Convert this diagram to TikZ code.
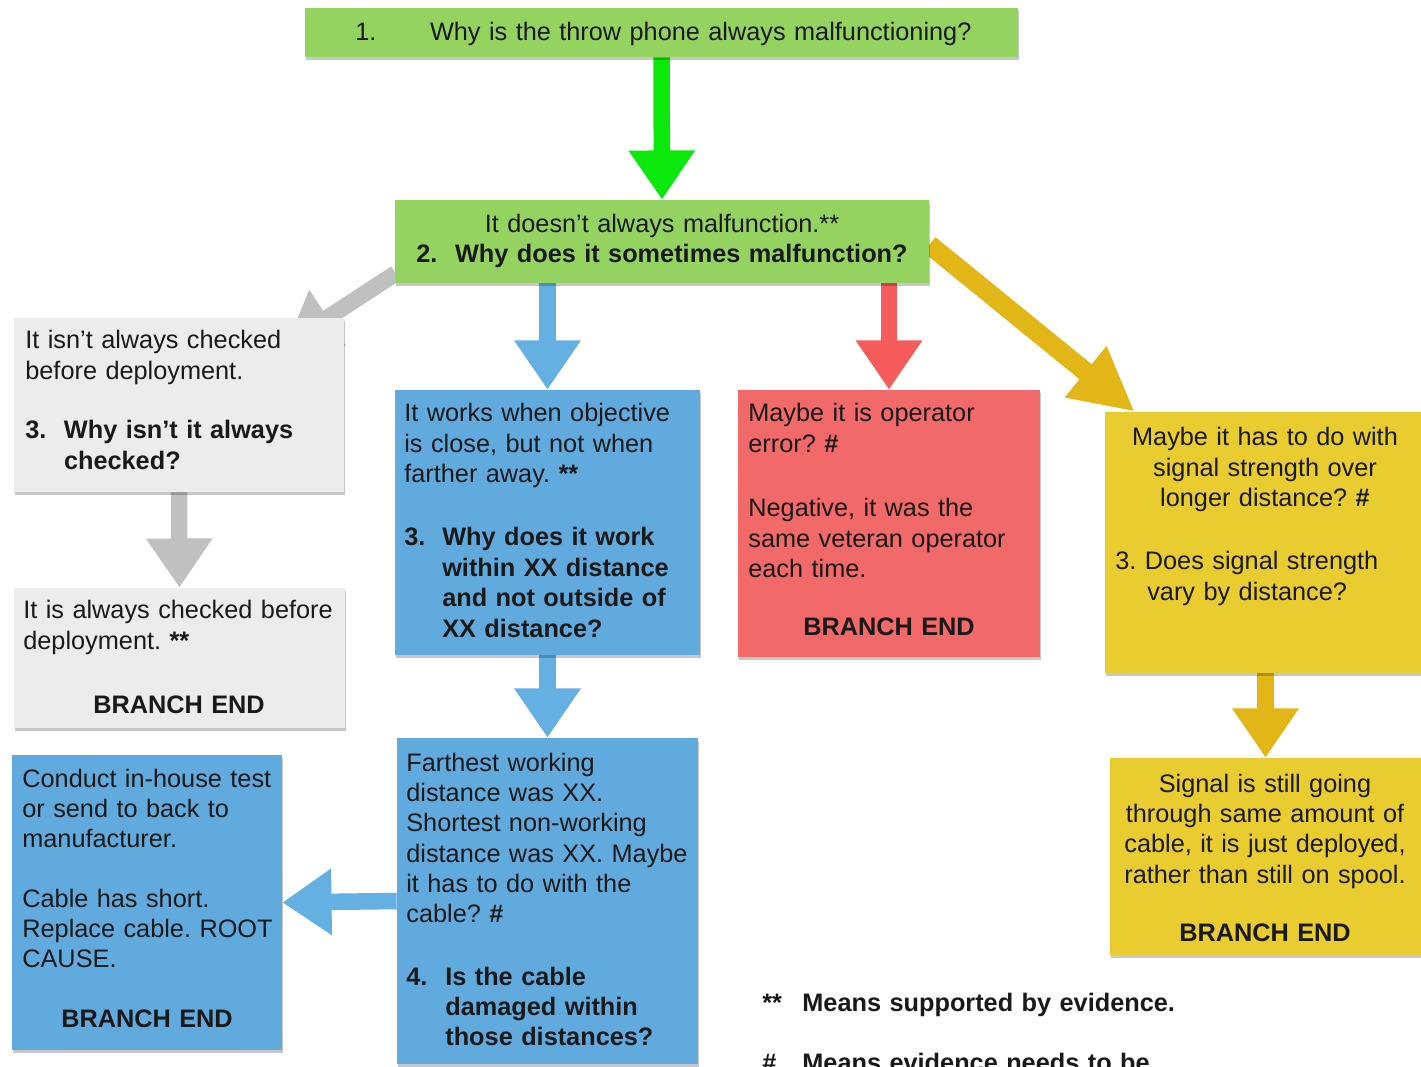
\documentclass[tikz,border=0pt]{standalone}
\usepackage{fontspec}
\setmainfont{Liberation Sans}
\usetikzlibrary{arrows.meta,shadows,calc}
\frenchspacing

\definecolor{boxgreen}{RGB}{148,211,96}
\definecolor{arrgreen}{RGB}{12,232,12}
\definecolor{boxgray}{RGB}{236,236,236}
\definecolor{arrgray}{RGB}{192,192,192}
\definecolor{boxblue}{RGB}{97,170,221}
\definecolor{arrblue}{RGB}{100,176,226}
\definecolor{boxred}{RGB}{241,105,105}
\definecolor{arrred}{RGB}{246,92,92}
\definecolor{boxyellow}{RGB}{232,204,48}
\definecolor{arryellow}{RGB}{226,182,22}
\definecolor{ink}{RGB}{25,25,25}

\pgfdeclarelayer{bg}
\pgfsetlayers{bg,main}

\newcommand\fs{\fontsize{14.4pt}{17.3pt}\selectfont}

\tikzset{
  card/.style={rectangle, inner sep=0pt, draw=none,
    drop shadow={shadow xshift=0.6pt, shadow yshift=-1.8pt,
      fill=black, opacity=0.22}},
  para/.style={anchor=base west, inner sep=0pt, text width=14cm,
    align=left, font=\fs, text=ink},
  cpara/.style={anchor=base, inner sep=0pt, text width=14cm,
    align=center, font=\fs, text=ink},
  bpara/.style={para, font=\fs\bfseries},
  bcpara/.style={cpara, font=\fs\bfseries},
  blockarrow/.style={line width=9.4pt, -{Triangle[width=36pt,length=28pt]}},
  widearrow/.style={line width=11pt, -{Triangle[width=35pt,length=36pt]}},
}

% a card given by its corners in pixel units
\newcommand\mkcard[6]{%
  \node[card, fill=#2, minimum width={(#5-#3)*0.02cm},
    minimum height={(#6-#4)*0.02cm}] (#1) at ({(#3+#5)/2},{(#4+#6)/2}) {};}

\begin{document}
\begin{tikzpicture}[x=0.02cm, y=-0.02cm]
\useasboundingbox (0,0) rectangle (1421,1067);
\clip (0,0) rectangle (1421,1067);
\begin{pgfonlayer}{bg}
\fill[white] (0,0) rectangle (1421,1067);
\end{pgfonlayer}

% cards
\mkcard{b1}{boxgreen}{305}{8}{1018}{57}
\mkcard{b2}{boxgreen}{395}{200}{929}{283}
\mkcard{g1}{boxgray}{14}{318}{344}{492}
\mkcard{g2}{boxgray}{14}{588}{345}{728}
\mkcard{u1}{boxblue}{395}{390}{700}{655}
\mkcard{u2}{boxblue}{397}{738}{698}{1064}
\mkcard{u3}{boxblue}{12}{755}{282}{1050}
\mkcard{r1}{boxred}{738}{390}{1040}{657}
\mkcard{y1}{boxyellow}{1105}{412}{1426}{673}
\mkcard{y2}{boxyellow}{1110}{758}{1421}{955}

% connectors
\begin{pgfonlayer}{bg}
\draw[blockarrow, arrgreen] (b1.south) -- (b2.north);
\draw[blockarrow, arrgray] ($(b2.south west)+(1,-10)$) -- ($(g1.north east)+(-58,27)$);
\draw[blockarrow, arrgray] (g1.south) -- (g2.north);
\draw[blockarrow, arrblue] (b2.south -| u1.north) -- (u1.north);
\draw[blockarrow, arrblue] (u1.south) -- (u2.north);
\draw[blockarrow, arrblue] (u2.west) -- (u3.east);
\draw[blockarrow, arrred] (b2.south -| r1.north) -- (r1.north);
\draw[widearrow, arryellow] ($(b2.north east)+(0,45)$) -- ($(y1.north west)+(30,0)$);
\draw[blockarrow, arryellow] (y1.south) -- (y2.north);
\end{pgfonlayer}

% texts
\node[para] (b1t) at (355,41) {1.\hspace*{30.5pt}Why is the throw phone always malfunctioning?};

\node[cpara] (b2a) at (662,233) {It doesn't always malfunction.**};
\node[bcpara] (b2b) at (662,263) {2.\hspace{10pt}Why does it sometimes malfunction?};

\node[para] (g1a) at (25,349) {It isn't always checked\\before deployment.};
\node[bpara] (g1b) at (25,439) {\makebox[22pt][l]{3.}Why isn't it always\\\hspace*{22pt}checked?};

\node[para] (g2a) at (23,619) {It is always checked before\\deployment. \textbf{**}};
\node[bcpara] (g2b) at (179,713) {BRANCH END};

\node[para] (u1a) at (404,422) {It works when objective\\is close, but not when\\farther away. \textbf{**}};
\node[bpara] (u1b) at (404,546) {\makebox[21.6pt][l]{3.}Why does it work\\\hspace*{21.6pt}within XX distance\\\hspace*{21.6pt}and not outside of\\\hspace*{21.6pt}XX distance?};

\node[para] (r1a) at (748,422) {Maybe it is operator\\error? \textbf{\#}};
\node[para] (r1b) at (748,517) {Negative, it was the\\same veteran operator\\each time.};
\node[bcpara] (r1c) at (889,636) {BRANCH END};

\node[cpara] (y1a) at (1265,446) {Maybe it has to do with\\signal strength over\\longer distance? \textbf{\#}};
\node[para] (y1b) at (1115,570) {3. Does signal strength\\\hspace*{18.2pt}vary by distance?};

\node[cpara] (y2a) at (1265,792) {Signal is still going\\through same amount of\\cable, it is just deployed,\\rather than still on spool.};
\node[bcpara] (y2b) at (1265,941) {BRANCH END};

\node[para] (u2a) at (406,771) {Farthest working\\distance was XX.\\Shortest non-working\\distance was XX. Maybe\\it has to do with the\\cable? \textbf{\#}};
\node[bpara] (u2b) at (406,985) {\makebox[22.2pt][l]{4.}Is the cable\\\hspace*{22.2pt}damaged within\\\hspace*{22.2pt}those distances?};

\node[para] (u3a) at (22,787) {Conduct in-house test\\or send to back to\\manufacturer.};
\node[para] (u3b) at (22,907) {Cable has short.\\Replace cable. ROOT\\CAUSE.};
\node[bcpara] (u3c) at (147,1027) {BRANCH END};

% legend
\node[bpara] (lg1) at (762,1011) {\makebox[22.8pt][l]{**}Means supported by evidence.};
\node[bpara] (lg2) at (762,1071) {\makebox[22.8pt][l]{\#}Means evidence needs to be};
\end{tikzpicture}
\end{document}
